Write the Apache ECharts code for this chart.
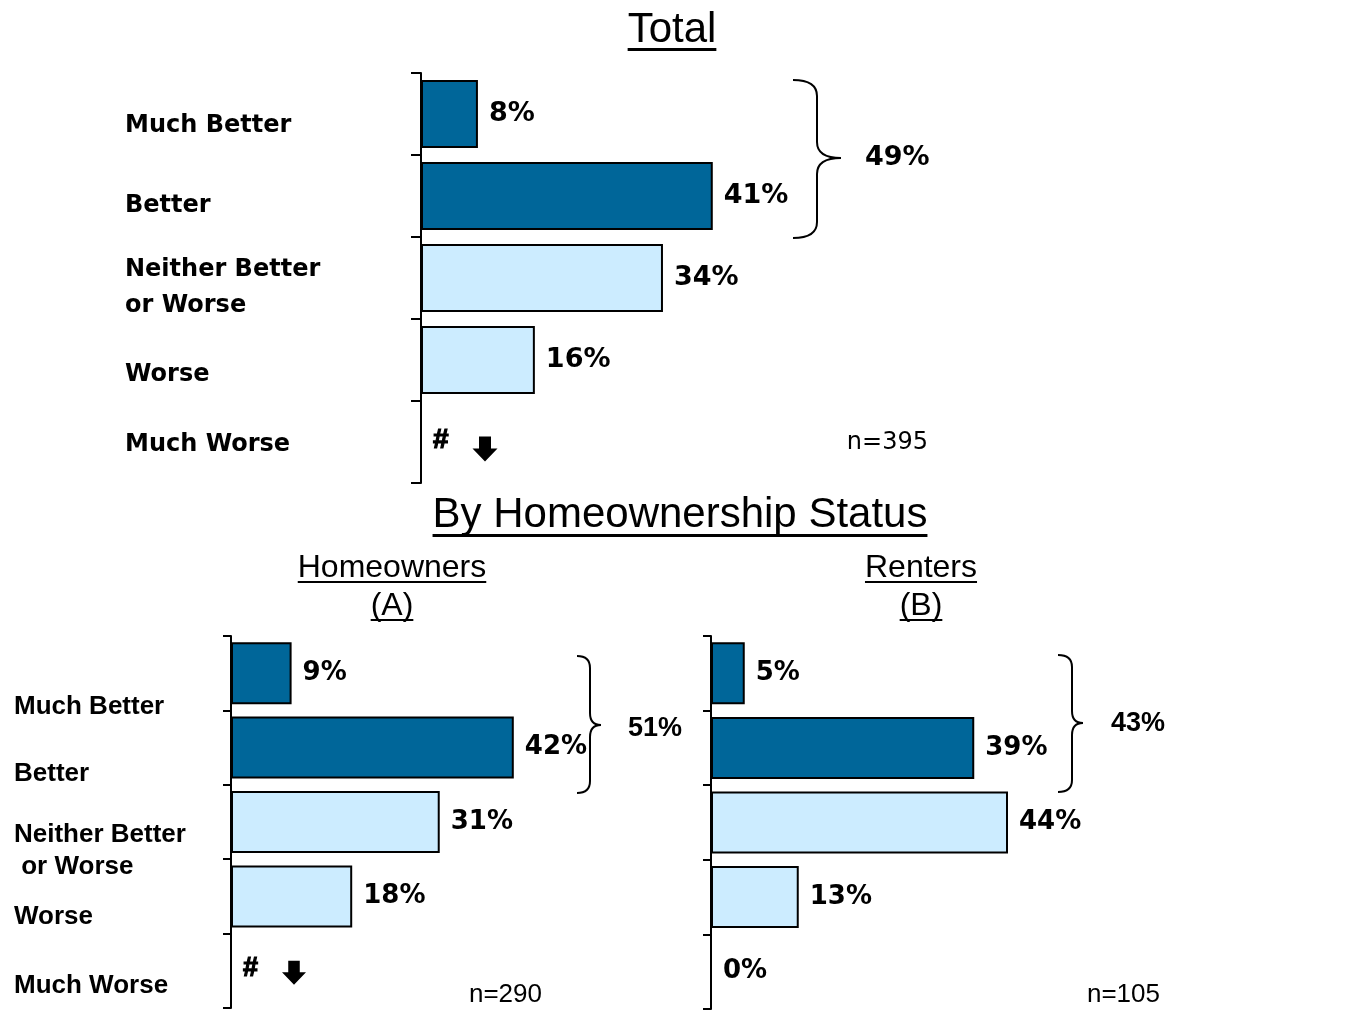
<!DOCTYPE html>
<html><head><meta charset="utf-8">
<script src="https://cdn.jsdelivr.net/npm/echarts@6/dist/echarts.min.js"></script>
<style>html,body{margin:0;padding:0;background:#fff}#chart{width:1360px;height:1016px}</style>
</head><body><div id="chart"></div>
<script>
// ---- data ----
const categories = ['Much Better', 'Better', 'Neither Better or Worse', 'Worse', 'Much Worse'];
const topCategoryLabels = ['Much Better', 'Better', 'Neither Better\nor Worse', 'Worse', 'Much Worse'];
const bottomCategoryLabels = ['Much Better', 'Better', 'Neither Better\n or Worse', 'Worse', 'Much Worse'];
const totalValues = [8, 41, 34, 16, 0];
const totalBelowOne = [false, false, false, false, true];
const ownerValues = [9, 42, 31, 18, 0];
const ownerBelowOne = [false, false, false, false, true];
const renterValues = [5, 39, 44, 13, 0];
const renterBelowOne = [false, false, false, false, false];
const netBetter = ['49%', '51%', '43%'];
const sampleSizes = ['n=395', 'n=290', 'n=105'];
const panelTitles = ['Total', 'By Homeownership Status', 'Homeowners', '(A)', 'Renters', '(B)'];

// ---- styles ----
const DARK = '#006699', LIGHT = '#CCECFF';
const catColors = [DARK, DARK, LIGHT, LIGHT, LIGHT];
const chart = echarts.init(document.getElementById('chart'), null, {renderer: 'canvas'});

function barData(vals, flags, hashSize) {
  return vals.map((v, i) => {
    const item = {value: v, itemStyle: {color: catColors[i]}};
    if (flags[i]) item.label = {fontFamily: 'Liberation Sans', fontWeight: 'bold', fontSize: hashSize,
      textBorderColor: '#000', textBorderWidth: 1.2, offset: [0, -2]};
    return item;
  });
}
function makeSeries(idx, vals, flags, barWidth, fontSize, hashSize) {
  return {
    type: 'bar', xAxisIndex: idx, yAxisIndex: idx, barWidth: barWidth,
    data: barData(vals, flags, hashSize), silent: true, animation: false,
    itemStyle: {borderColor: '#000', borderWidth: 2},
    label: {
      show: true, position: 'right', distance: 11,
      fontFamily: 'DejaVu Sans', fontWeight: 'bold', fontSize: fontSize, color: '#000',
      formatter: p => flags[p.dataIndex] ? '#' : vals[p.dataIndex] + '%'
    }
  };
}
function yAx(idx, tickLen) {
  return {
    type: 'category', gridIndex: idx, inverse: true, data: categories,
    axisLine: {show: true, lineStyle: {color: '#000', width: 2}},
    axisTick: {show: true, length: tickLen, lineStyle: {color: '#000', width: 2}},
    axisLabel: {show: false}, splitLine: {show: false}
  };
}
function xAx(idx) {
  return {type: 'value', gridIndex: idx, min: 0, max: 60, show: false, splitLine: {show: false}};
}

chart.setOption({
  backgroundColor: '#fff',
  animation: false,
  grid: [
    {left: 421, top: 73, width: 427, height: 410},
    {left: 231, top: 636, width: 404, height: 372},
    {left: 711, top: 636, width: 405, height: 373}
  ],
  xAxis: [xAx(0), xAx(1), xAx(2)],
  yAxis: [yAx(0, 10), yAx(1, 8), yAx(2, 8)],
  series: [
    makeSeries(0, totalValues, totalBelowOne, 68, 27, 28),
    makeSeries(1, ownerValues, ownerBelowOne, 62, 26, 27),
    makeSeries(2, renterValues, renterBelowOne, 62, 26, 27)
  ]
});

// ---- annotations ----
const mctx = document.createElement('canvas').getContext('2d');
function tw(text, font) { mctx.font = font; return mctx.measureText(text).width; }
const graphics = [];
const txt = (text, x, y, font, align, extra) => graphics.push({type: 'text', silent: true,
  style: Object.assign({text: text, x: x, y: y, font: font, fill: '#000', textAlign: align, textVerticalAlign: 'middle'}, extra || {})});

function title(text, cx, cy, size, ulY, ulH) {
  const font = size + 'px "Liberation Sans"';
  const w = tw(text, font);
  txt(text, cx, cy, font, 'center');
  graphics.push({type: 'rect', silent: true, shape: {x: cx - w / 2, y: ulY, width: w, height: ulH}, style: {fill: '#000'}});
}
title(panelTitles[0], 672, 30, 42, 48, 3);
title(panelTitles[1], 680, 515, 42, 534, 3);
title(panelTitles[2], 392, 568, 32, 581, 2);
title(panelTitles[3], 392, 606, 32, 619, 2);
title(panelTitles[4], 921, 568, 32, 581, 2);
title(panelTitles[5], 921, 606, 32, 619, 2);

// category labels (offset below the tick centres, as in the reference)
const topOffsets = [12, 10, 10, 15, 3];
const bottomOffsets = [34, 26, 29, 20, 15];
categories.forEach((c, i) => {
  const y0 = chart.convertToPixel({yAxisIndex: 0}, c);
  txt(topCategoryLabels[i], 125, y0 + topOffsets[i], 'bold 24px "DejaVu Sans"', 'left', {lineHeight: 36});
  const y1 = chart.convertToPixel({yAxisIndex: 1}, c);
  txt(bottomCategoryLabels[i], 14, y1 + bottomOffsets[i], 'bold 26px "Liberation Sans"', 'left', {lineHeight: 32});
});

// "less than 1%" down arrows next to the '#' labels
function downArrow(gridIdx, dx, dy, s) {
  const p = chart.convertToPixel({xAxisIndex: gridIdx, yAxisIndex: gridIdx}, [0, categories[4]]);
  const cx = p[0] + dx, cy = p[1] + dy;
  graphics.push({type: 'polygon', silent: true, shape: {points: [
    [cx - 0.24 * s, cy - 0.5 * s], [cx + 0.24 * s, cy - 0.5 * s], [cx + 0.24 * s, cy - 0.02 * s],
    [cx + 0.5 * s, cy - 0.02 * s], [cx, cy + 0.5 * s], [cx - 0.5 * s, cy - 0.02 * s], [cx - 0.24 * s, cy - 0.02 * s]
  ]}, style: {fill: '#000'}});
}
totalBelowOne.forEach((f) => { if (f) downArrow(0, 64, 7, 25); });
ownerBelowOne.forEach((f) => { if (f) downArrow(1, 63, 2, 24); });

// braces with net labels
const braces = [
  {x0: 793, xs: 817, xt: 841, y0: 80, y1: 238, yt: 158, r: 16, lx: 865, ly: 158, font: 'bold 27px "DejaVu Sans"'},
  {x0: 577, xs: 590, xt: 601, y0: 656, y1: 793, yt: 725, r: 12, lx: 628, ly: 729, font: 'bold 27px "Liberation Sans"'},
  {x0: 1058, xs: 1072, xt: 1083, y0: 655, y1: 792, yt: 723, r: 12, lx: 1111, ly: 724, font: 'bold 27px "Liberation Sans"'}
];
const bs = {fill: null, stroke: '#000', lineWidth: 2};
braces.forEach((b, i) => {
  graphics.push({type: 'bezierCurve', silent: true, shape: {x1: b.x0, y1: b.y0, cpx1: b.xs, cpy1: b.y0, x2: b.xs, y2: b.y0 + b.r}, style: bs});
  graphics.push({type: 'line', silent: true, shape: {x1: b.xs, y1: b.y0 + b.r, x2: b.xs, y2: b.yt - b.r}, style: bs});
  graphics.push({type: 'bezierCurve', silent: true, shape: {x1: b.xs, y1: b.yt - b.r, cpx1: b.xs, cpy1: b.yt, x2: b.xt, y2: b.yt}, style: bs});
  graphics.push({type: 'bezierCurve', silent: true, shape: {x1: b.xt, y1: b.yt, cpx1: b.xs, cpy1: b.yt, x2: b.xs, y2: b.yt + b.r}, style: bs});
  graphics.push({type: 'line', silent: true, shape: {x1: b.xs, y1: b.yt + b.r, x2: b.xs, y2: b.y1 - b.r}, style: bs});
  graphics.push({type: 'bezierCurve', silent: true, shape: {x1: b.xs, y1: b.y1 - b.r, cpx1: b.xs, cpy1: b.y1, x2: b.x0, y2: b.y1}, style: bs});
  txt(netBetter[i], b.lx, b.ly, b.font, 'left');
});

// sample sizes
const nPos = [
  {x: 928, y: 443, font: '24px "DejaVu Sans"'},
  {x: 542, y: 995, font: '26px "Liberation Sans"'},
  {x: 1160, y: 995, font: '26px "Liberation Sans"'}
];
nPos.forEach((p, i) => txt(sampleSizes[i], p.x, p.y, p.font, 'right'));

chart.setOption({graphic: graphics});
</script>
</body></html>
